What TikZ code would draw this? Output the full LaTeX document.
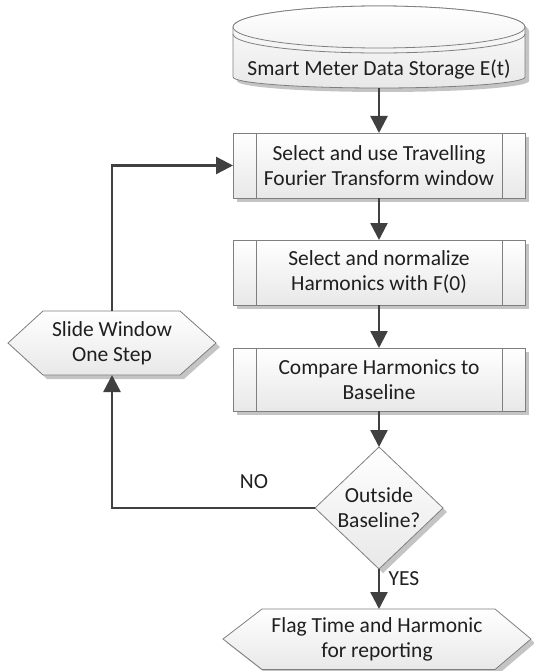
\documentclass[tikz,border=0pt]{standalone}
\usepackage{fontspec}
\setmainfont{Carlito}
\usetikzlibrary{arrows.meta,calc}
\definecolor{linec}{HTML}{404040}
\definecolor{edgec}{HTML}{7F7F7F}
\definecolor{shadowc}{HTML}{C4C4C4}
\tikzset{
  shapeline/.style={draw=edgec, line width=0.8pt, top color=white, bottom color=black!9},
  shadowfill/.style={fill=shadowc},
  conn/.style={draw=linec, line width=2.4pt, -{Triangle[width=17pt,length=17pt]}},
  txt/.style={font=\fontsize{21.5}{25}\selectfont, text=black!88, align=center, inner sep=0pt},
  frame/.style={inner sep=0pt, outer sep=0pt, font=\fontsize{21.5}{25}\selectfont, text=black!88, align=center},
  inner/.style={draw=edgec, line width=0.8pt},
}
\begin{document}
\begin{tikzpicture}[x=1pt,y=-1pt]
\useasboundingbox (0,0) rectangle (533,671);

% ---------- cylinder ----------
\fill[shadowfill, shift={(4,4)}] (233,27) -- (233,77)
  arc[start angle=180,end angle=0,x radius=146,y radius=11] -- (525,27)
  arc[start angle=0,end angle=-180,x radius=146,y radius=21] -- cycle;
\path[shapeline] (233,27) -- (233,77)
  arc[start angle=180,end angle=0,x radius=146,y radius=11] -- (525,27)
  arc[start angle=0,end angle=-180,x radius=146,y radius=21] -- cycle;
\draw[inner, top color=white, bottom color=black!5] (379,27) ellipse [x radius=146, y radius=21];
\draw[inner] (233,34) arc[start angle=180,end angle=0,x radius=146,y radius=19];
\node[frame, minimum width=292pt, minimum height=83pt] (cyl) at (379,46.5) {};
\node[txt] (cyltext) at (379,69) {Smart Meter Data Storage E(t)};

% ---------- process boxes ----------
\fill[shadowfill, shift={(4,4)}] (233,133) rectangle (525,198);
\node[frame, shapeline, minimum width=292pt, minimum height=65pt] (b1) at (379,165.5)
  {Select and use Travelling\\Fourier Transform window};
\draw[inner] ($(b1.north west)+(23,0)$) -- ($(b1.south west)+(23,0)$);
\draw[inner] ($(b1.north east)+(-23,0)$) -- ($(b1.south east)+(-23,0)$);

\fill[shadowfill, shift={(4,4)}] (233,240) rectangle (525,305);
\node[frame, shapeline, minimum width=292pt, minimum height=65pt] (b2) at (379,272.5)
  {Select and normalize\\Harmonics with F(0)};
\draw[inner] ($(b2.north west)+(23,0)$) -- ($(b2.south west)+(23,0)$);
\draw[inner] ($(b2.north east)+(-23,0)$) -- ($(b2.south east)+(-23,0)$);

\fill[shadowfill, shift={(4,4)}] (233,348) rectangle (525,411);
\node[frame, shapeline, minimum width=292pt, minimum height=63pt] (b3) at (379,379.5)
  {Compare Harmonics to\\Baseline};
\draw[inner] ($(b3.north west)+(23,0)$) -- ($(b3.south west)+(23,0)$);
\draw[inner] ($(b3.north east)+(-23,0)$) -- ($(b3.south east)+(-23,0)$);

% ---------- decision ----------
\fill[shadowfill, shift={(4,4)}] (379,447) -- (443,508) -- (379,569) -- (315,508) -- cycle;
\path[shapeline] (379,447) -- (443,508) -- (379,569) -- (315,508) -- cycle;
\node[frame, minimum width=128pt, minimum height=122pt] (dec) at (379,508) {Outside\\Baseline?};

% ---------- slide window hexagon ----------
\fill[shadowfill, shift={(4,4)}] (8,343) -- (43,311) -- (180,311) -- (216,343) -- (180,375) -- (43,375) -- cycle;
\path[shapeline] (8,343) -- (43,311) -- (180,311) -- (216,343) -- (180,375) -- (43,375) -- cycle;
\node[frame, minimum width=208pt, minimum height=64pt] (slide) at (112,343) {Slide Window\\One Step};

% ---------- flag hexagon ----------
\fill[shadowfill, shift={(4,4)}] (223,639) -- (262,609) -- (495,609) -- (531,639) -- (495,669.5) -- (262,669.5) -- cycle;
\path[shapeline] (223,639) -- (262,609) -- (495,609) -- (531,639) -- (495,669.5) -- (262,669.5) -- cycle;
\node[frame, minimum width=308pt, minimum height=60.5pt] (flag) at (377,639.25) {Flag Time and Harmonic\\for reporting};

% ---------- connectors ----------
\draw[conn] (cyl.south) -- (b1.north);
\draw[conn] (b1.south) -- (b2.north);
\draw[conn] (b2.south) -- (b3.north);
\draw[conn] (b3.south) -- (dec.north);
\draw[conn] (dec.south) -- (dec.south |- flag.north);
\draw[conn] (dec.west) -| (slide.south);
\draw[conn] (slide.north) |- (b1.west);

\node[txt] (no) at (254,482) {NO};
\node[txt] (yes) at (404,579) {YES};
\end{tikzpicture}
\end{document}
